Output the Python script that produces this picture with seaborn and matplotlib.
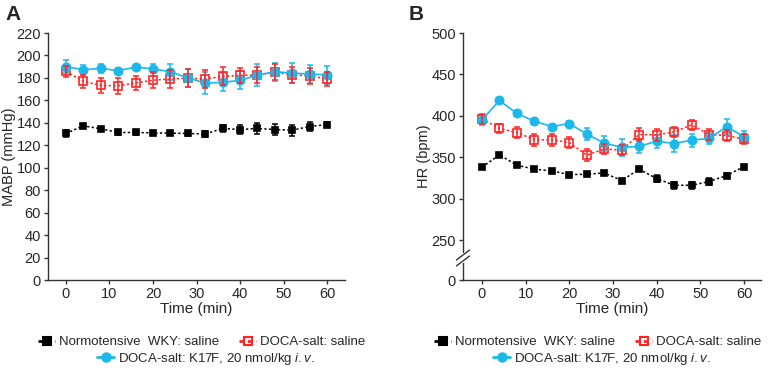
import numpy as np
import pandas as pd
import matplotlib
matplotlib.use("Agg")
import matplotlib.pyplot as plt
import seaborn as sns
from matplotlib.lines import Line2D

# ---------------- data ----------------
time_min = [0, 4, 8, 12, 16, 20, 24, 28, 32, 36, 40, 44, 48, 52, 56, 60]

mabp_wky = [130.5, 137.3, 134.7, 131.4, 131.4, 131.0, 130.8, 130.5, 130.0, 135.0, 134.0, 135.0, 134.0, 133.5, 136.7, 138.5]
mabp_wky_err = [3, 2, 2, 2, 2, 2, 2, 2, 3, 3, 4, 5, 5, 5, 4, 2]
mabp_doca = [185.8, 177.0, 173.3, 173.0, 175.4, 178.0, 179.0, 179.8, 179.0, 181.3, 182.2, 182.5, 185.5, 182.5, 182.0, 179.0]
mabp_doca_err = [5, 6, 7, 7, 6, 7, 8, 8, 8, 8, 7, 7, 7, 7, 7, 6]
mabp_k17f = [190.0, 187.3, 188.5, 186.4, 189.7, 188.0, 185.5, 180.0, 175.4, 176.0, 177.8, 182.5, 185.5, 184.3, 183.4, 182.8]
mabp_k17f_err = [6, 4, 4, 2, 2, 4, 7, 8, 10, 8, 8, 10, 8, 9, 8, 8]

hr_wky = [337.9, 352.8, 340.3, 335.5, 333.5, 329.0, 329.4, 331.0, 321.8, 335.5, 324.2, 316.1, 316.1, 320.6, 327.8, 338.7]
hr_wky_err = [2, 2, 2, 2, 2, 2, 2, 2, 2, 2, 4, 4, 4, 4, 3, 2]
hr_doca = [396.4, 384.7, 379.8, 371.0, 371.0, 367.7, 352.4, 360.0, 358.5, 377.4, 377.0, 380.6, 389.0, 377.4, 376.2, 371.8]
hr_doca_err = [6, 6, 7, 7, 7, 7, 7, 6, 6, 8, 7, 6, 6, 7, 7, 6]
hr_k17f = [395.2, 418.5, 402.8, 393.5, 387.0, 390.7, 377.8, 367.0, 362.0, 363.0, 369.4, 366.5, 370.6, 372.6, 386.7, 375.0]
hr_k17f_err = [6, 3, 3, 2, 2, 3, 7, 9, 10, 8, 8, 10, 8, 7, 9, 7]

groups = ["Normotensive  WKY: saline", "DOCA-salt: saline",
          r"DOCA-salt: K17F, 20 nmol/kg $\it{i.v.}$"]
mabp_ticks = [0, 20, 40, 60, 80, 100, 120, 140, 160, 180, 200, 220]
hr_ticks = [250, 300, 350, 400, 450, 500]
x_ticks = [0, 10, 20, 30, 40, 50, 60]

# ---------------- style ----------------
sns.set_theme(style="ticks")
plt.rcParams['font.family'] = ['Liberation Sans', 'DejaVu Sans']
plt.rcParams['mathtext.fontset'] = 'custom'
plt.rcParams['mathtext.it'] = 'Liberation Sans:italic'
plt.rcParams['mathtext.rm'] = 'Liberation Sans'

BLACK = "#000000"
RED = "#ff2424"
BLUE = "#1cb8ec"

styles = [
    dict(color=BLACK, ls=(0, (1.5, 1.5)), marker="s", mfc=BLACK, mec=BLACK, ms=5, lw=1.1, ez=2),
    dict(color=RED, ls=(0, (1.5, 1.5)), marker="s", mfc="none", mec=RED, ms=6, lw=1.1, ez=4),
    dict(color=BLUE, ls="-", marker="o", mfc=BLUE, mec=BLUE, ms=6, lw=1.2, ez=2),
]

fig = plt.figure(figsize=(7.68, 3.70), dpi=100)
axA = fig.add_axes([48 / 768, 1 - 280 / 370, (345 - 48) / 768, (280 - 33) / 370])
axB = fig.add_axes([463 / 768, 1 - 280 / 370, (761 - 463) / 768, (280 - 33) / 370])


def draw(ax, series):
    for (vals, errs), name, st in zip(series, groups, styles):
        df = pd.DataFrame({"t": time_min, "v": vals})
        sns.lineplot(data=df, x="t", y="v", ax=ax, color=st["color"], linestyle=st["ls"],
                     linewidth=st["lw"], marker=st["marker"], markersize=st["ms"],
                     markerfacecolor=st["mfc"], markeredgecolor=st["mec"],
                     markeredgewidth=1.2, legend=False, zorder=3)
        ax.errorbar(time_min, vals, yerr=errs, fmt="none", ecolor=st["color"],
                    elinewidth=1.1, capsize=2.5, capthick=1.1, zorder=st["ez"])
    ax.set_xlabel("Time (min)", fontsize=11, labelpad=1)
    ax.set_xticks(x_ticks)
    ax.tick_params(labelsize=10.5, length=3, width=1, pad=2, color="#333333")
    for s in ["top", "right"]:
        ax.spines[s].set_visible(False)
    for s in ["left", "bottom"]:
        ax.spines[s].set_linewidth(1.0)
        ax.spines[s].set_color("#333333")


draw(axA, [(mabp_wky, mabp_wky_err), (mabp_doca, mabp_doca_err), (mabp_k17f, mabp_k17f_err)])
axA.set_xlim(-4.1, 64.1)
axA.set_ylim(0, 220)
axA.set_yticks(mabp_ticks)
axA.set_ylabel("MABP (mmHg)", fontsize=10.5)
axA.yaxis.set_label_coords((16 - 48) / 297, 0.5)

draw(axB, [(hr_wky, hr_wky_err), (hr_doca, hr_doca_err), (hr_k17f, hr_k17f_err)])
axB.set_xlim(-4.35, 63.9)
ylow = 201.7
axB.set_ylim(ylow, 500)
axB.set_yticks([ylow] + hr_ticks)
axB.set_yticklabels(["0"] + [str(t) for t in hr_ticks])
axB.set_ylabel("HR (bpm)", fontsize=10.5)
axB.yaxis.set_label_coords((431 - 463) / 298, 0.5)

# axis break marks on panel B
yb = (280 - 258) / (280 - 33)
axB.plot([0, 0], [yb - 0.012, yb + 0.012], transform=axB.transAxes, color="white",
         lw=3, clip_on=False, zorder=5)
for off in (-0.012, 0.012):
    axB.plot([-0.022, 0.022], [yb + off - 0.02, yb + off + 0.02], transform=axB.transAxes,
             color="#333333", lw=1.0, clip_on=False, zorder=6)

# panel letters
fig.text(5 / 768, 1 - 15 / 370, "A", fontsize=15, fontweight="bold", va="center", ha="left")
fig.text(409 / 768, 1 - 15 / 370, "B", fontsize=15, fontweight="bold", va="center", ha="left")

# legends
def handle(st):
    return Line2D([], [], color=st["color"], linestyle=st["ls"], lw=2, marker=st["marker"],
                  markerfacecolor=st["mfc"], markeredgecolor=st["mec"], markersize=6,
                  markeredgewidth=1.5)

legfont = dict(family=['Liberation Sans'], size=9.5)
for ax, cx in ((axA, 202 / 768), (axB, 598 / 768)):
    l1 = fig.legend([handle(styles[0]), handle(styles[1])], groups[:2], ncol=2,
                    loc="center", bbox_to_anchor=(cx, 1 - 342 / 370), frameon=False,
                    prop=legfont, handlelength=1.3, handletextpad=0.3, columnspacing=1.5,
                    borderpad=0, borderaxespad=0)
    l2 = fig.legend([handle(styles[2])], groups[2:], ncol=1,
                    loc="center", bbox_to_anchor=(cx + 4 / 768, 1 - 359 / 370), frameon=False,
                    prop=legfont, handlelength=1.3, handletextpad=0.3,
                    borderpad=0, borderaxespad=0)

fig.savefig("out.png", dpi=100)
